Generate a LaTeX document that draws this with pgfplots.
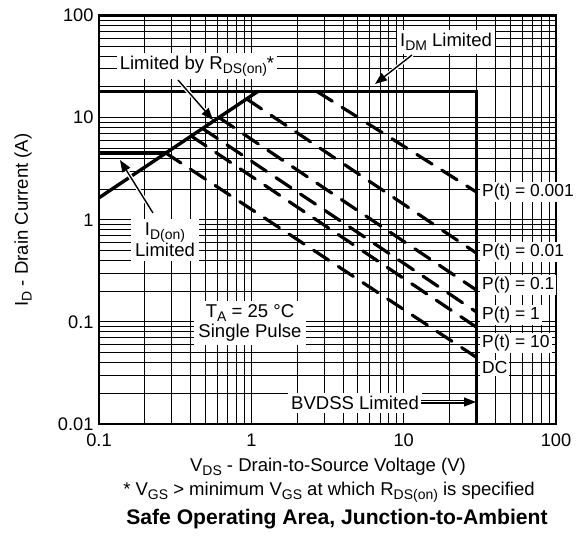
\documentclass[border=0pt]{standalone}
\usepackage{fontspec}
\setmainfont{Liberation Sans}
\usepackage{pgfplots}
\pgfplotsset{compat=1.18}
\usetikzlibrary{arrows.meta}

\newcommand\sub[1]{\raisebox{-3.8bp}{\fontsize{14}{14}\selectfont #1}}
\newcommand\fs{\fontsize{18.6}{20}\selectfont}

\begin{document}
\begin{tikzpicture}
\begin{loglogaxis}[
    at={(0,0)}, anchor=south west,
    scale only axis, width=457bp, height=408.5bp,
    xmin=0.1, xmax=100, ymin=0.01, ymax=100,
    xtick={0.1,1,10,100}, xticklabels={0.1,1,10,100},
    ytick={0.01,0.1,1,10,100}, yticklabels={0.01,0.1,1,10,100},
    grid=both,
    major grid style={black, line width=1bp},
    minor grid style={black, line width=1bp},
    major tick length=0pt, minor tick length=0pt,
    axis line style={line width=2.2bp},
    tick label style={font=\fontsize{18.3}{20}\selectfont},
    xticklabel style={yshift=-6bp},
    yticklabel style={xshift=-2bp},
    /pgf/number format/assume math mode=true,
    pulse/.style={black, line width=3.2bp, line cap=round, dash pattern=on 18bp off 11.5bp},
  ]
  % I_DM and BVDSS limits
  \addplot[black, line width=3.4bp, line join=miter] coordinates {(0.1,18) (30,18) (30,0.01)};
  % R_DS(on) limit
  \addplot[black, line width=3.4bp] coordinates {(0.1,1.64) (1.1,18)};
  % I_D(on) limit
  \addplot[black, line width=3.4bp] coordinates {(0.1,4.5) (0.2745,4.5)};
  % pulse lines
  \addplot[pulse] coordinates {(2.7,18) (30,1.87)};
  \addplot[pulse] coordinates {(0.931,15.26) (30,0.472)};
  \addplot[pulse] coordinates {(0.612,10.04) (30,0.205)};
  \addplot[pulse] coordinates {(0.478,7.84) (30,0.125)};
  \addplot[pulse] coordinates {(0.403,6.61) (30,0.0889)};
  \addplot[pulse] coordinates {(0.2745,4.5) (30,0.045)};
\end{loglogaxis}

% annotations, in pixel units of the reference (origin top left)
\begin{scope}[x=1bp, y=-1bp, shift={(-99bp,424bp)}, every node/.append style={font=\fs}]
  \node[fill=white, inner sep=3bp] at (197,66) {Limited by R\sub{DS(on)}*};
  \node[fill=white, inner sep=3bp] at (446,42) {I\sub{DM} Limited};
  \node[fill=white, inner sep=4bp, align=center] at (165,240) {I\sub{D(on)}\\Limited};
  \node[fill=white, inner sep=4bp, align=center] at (250,323) {T\sub{A} = 25 °C\\Single Pulse};
  \node[fill=white, inner sep=3bp] at (355,403) {BVDSS Limited};

  \begin{scope}[every node/.append style={fill=white, anchor=west, inner xsep=2bp, inner ysep=1.5bp, font=\fontsize{17.5}{19}\selectfont}]
    \node at (480,192) {P(t) = 0.001};
    \node at (480,252) {P(t) = 0.01};
    \node at (480,285) {P(t) = 0.1};
    \node at (480,315) {P(t) = 1};
    \node at (480,343) {P(t) = 10};
    \node at (480,368) {DC};
  \end{scope}

  % arrows
  \draw[white, line width=4bp] (178,80) -- (206,112);
  \draw[line width=1.4bp, -{Triangle[length=12bp,width=9bp]}] (178,80) -- (213,120);
  \draw[white, line width=4bp] (412,55) -- (382,79);
  \draw[line width=1.4bp, -{Triangle[length=12bp,width=9bp]}] (412,55) -- (375,84);
  \draw[white, line width=4bp] (153,213) -- (125,168);
  \draw[line width=1.4bp, -{Triangle[length=12bp,width=9bp]}] (153,213) -- (120,160);
  \draw[line width=1.1bp, double=white, double distance=1bp, -{Triangle[length=12bp,width=9bp]}] (421,402) -- (476,402);

  % outer texts
  \node[rotate=90] at (23,220) {I\sub{D} - Drain Current (A)};
  \node at (328,467) {V\sub{DS} - Drain-to-Source Voltage (V)};
  \node at (329,492) {* V\sub{GS} > minimum V\sub{GS} at which R\sub{DS(on)} is specified};
  \node[font=\bfseries\fontsize{21.2}{23}\selectfont] at (337,519) {Safe Operating Area, Junction-to-Ambient};

  \pgfresetboundingbox
  \path[use as bounding box] (0,0) rectangle (576,537);
\end{scope}
\end{tikzpicture}
\end{document}
